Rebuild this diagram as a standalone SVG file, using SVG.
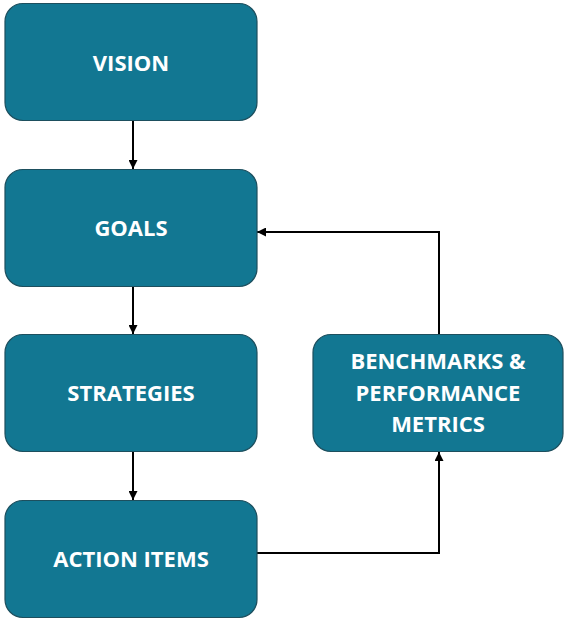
<svg xmlns="http://www.w3.org/2000/svg" width="564" height="621" viewBox="0 0 564 621">
  <defs>
    <style>
      .box { fill: #127792; stroke: #1d4f5e; stroke-width: 1.2; }
      .label { fill: #ffffff; font-family: "Open Sans", "Liberation Sans", sans-serif; font-weight: bold; font-size: 22px; text-anchor: middle; }
      .link { fill: none; stroke: #000000; stroke-width: 2; }
    </style>
    <marker id="arrow" viewBox="0 0 10 10" refX="10" refY="5" markerWidth="9" markerHeight="9" markerUnits="userSpaceOnUse" orient="auto">
      <path d="M0,0 L10,5 L0,10 Z" fill="#000000"/>
    </marker>
  </defs>
  <rect width="564" height="621" fill="#ffffff"/>

  <g id="connectors">
    <line class="link" x1="133" y1="121" x2="133" y2="169" marker-end="url(#arrow)"/>
    <line class="link" x1="133" y1="287" x2="133" y2="334" marker-end="url(#arrow)"/>
    <line class="link" x1="133" y1="452" x2="133" y2="500" marker-end="url(#arrow)"/>
    <polyline class="link" points="257,553 439,553 439,452" marker-end="url(#arrow)"/>
    <polyline class="link" points="439,334 439,232 257,232" marker-end="url(#arrow)"/>
  </g>

  <g id="vision">
    <rect class="box" x="5" y="3.5" width="252" height="117" rx="18"/>
    <text class="label" x="131" y="71">VISION</text>
  </g>
  <g id="goals">
    <rect class="box" x="5" y="169.5" width="252" height="117" rx="18"/>
    <text class="label" x="131" y="236">GOALS</text>
  </g>
  <g id="strategies">
    <rect class="box" x="5" y="334.5" width="252" height="117" rx="18"/>
    <text class="label" x="131" y="401">STRATEGIES</text>
  </g>
  <g id="action-items">
    <rect class="box" x="5" y="500.5" width="252" height="117" rx="18"/>
    <text class="label" x="131" y="567">ACTION ITEMS</text>
  </g>
  <g id="benchmarks">
    <rect class="box" x="313" y="334.5" width="250" height="117" rx="18"/>
    <text class="label" x="438" y="369">BENCHMARKS &amp;</text>
    <text class="label" x="438" y="401">PERFORMANCE</text>
    <text class="label" x="438" y="432">METRICS</text>
  </g>
</svg>
